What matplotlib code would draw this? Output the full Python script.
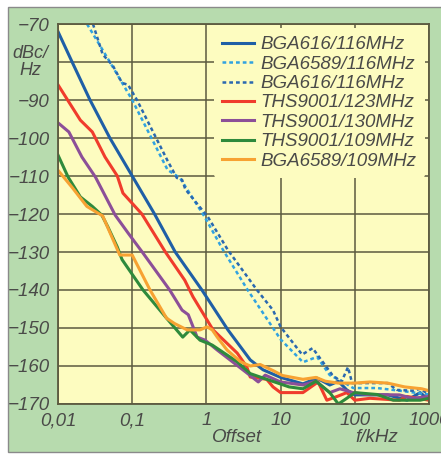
import matplotlib.pyplot as plt
from matplotlib.patches import Rectangle

# Phase noise data (offset in kHz, level in dBc/Hz)
bga616_f = [0.01, 0.0155, 0.027, 0.05, 0.1, 0.2, 0.38, 0.87, 1.95, 3.9, 5.8, 10, 20, 31, 46, 60, 78, 100, 277, 506, 760, 1000]
bga616_db = [-72, -80, -90, -100, -110, -120, -130, -140, -150.5, -158.4, -161, -163, -164.7, -163.2, -165, -164, -166.3, -167.6, -167.6, -169, -167, -169]

bga6589_116_f = [0.0246, 0.05, 0.1, 0.3, 0.44, 0.95, 1.68, 3.6, 10, 20, 31, 46, 70, 95, 200, 400, 1000]
bga6589_116_db = [-70, -80, -90, -108.4, -110.5, -120.8, -129.5, -140, -153, -159, -157.6, -162.4, -164.2, -165.8, -165.8, -166.5, -167.5]

bga616b_f = [0.0296, 0.04, 0.055, 0.073, 0.088, 0.116, 0.3, 0.4, 0.47, 0.52, 1.05, 1.95, 4.8, 7.9, 10, 19.5, 27, 50, 66, 81, 92, 150, 277, 370, 600, 760, 1000]
bga616b_db = [-70, -78, -81, -85.5, -86, -90, -106, -110.5, -111, -113.5, -120.8, -129.5, -140, -145.3, -149.7, -157, -155.3, -162.4, -164.2, -160.3, -164.5, -164.5, -164.5, -166.3, -166.5, -166, -167.5]

ths123_f = [0.01, 0.02, 0.029, 0.043, 0.063, 0.075, 0.135, 0.28, 0.51, 0.66, 1.23, 2.6, 3.5, 3.9, 6.5, 7.9, 10, 20, 32, 42, 58, 78, 100, 160, 400, 500, 1000]
ths123_db = [-86, -95.3, -98.4, -105, -110, -114.5, -120, -130, -137.4, -141.8, -150.5, -156.6, -160.2, -162.9, -163.5, -165.5, -167, -167, -164.2, -169, -168, -167, -169, -168.5, -169, -168, -169]

ths130_f = [0.01, 0.014, 0.021, 0.032, 0.059, 0.088, 0.14, 0.32, 0.47, 0.57, 0.75, 0.96, 1.4, 3.5, 5, 6.2, 10, 20, 30, 46, 63, 95, 145, 400, 600, 1000]
ths130_db = [-96, -98.4, -105, -110.3, -120.3, -125, -130.3, -140, -145.3, -146.5, -152.4, -153.2, -155.8, -161.8, -164.2, -162.4, -164.2, -165, -164, -167, -166, -167, -167.5, -167.6, -168.5, -168]

ths109_f = [0.01, 0.0137, 0.02, 0.029, 0.039, 0.047, 0.063, 0.073, 0.14, 0.29, 0.48, 0.6, 0.82, 1.2, 2.6, 3.9, 6.5, 13, 20, 30, 46, 60, 78, 100, 200, 330, 760, 1000]
ths109_db = [-104.5, -110.3, -115.5, -118, -120.3, -123.4, -128.7, -132, -140, -147.4, -152.4, -150.5, -153.2, -154.5, -158.9, -162, -163.5, -165.5, -166, -164, -167, -170, -168.5, -167, -167.5, -169, -169, -168.5]

bga6589_109_f = [0.01, 0.0155, 0.0245, 0.04, 0.068, 0.1, 0.174, 0.29, 0.37, 0.55, 0.82, 1.02, 1.2, 1.4, 1.9, 2.9, 3.9, 5.3, 7.9, 10.6, 20, 30, 40, 60, 100, 160, 277, 470, 800, 1000]
bga6589_109_db = [-108.5, -113, -118, -120.5, -130.8, -130.8, -140, -147.4, -148.8, -150.5, -150.5, -149.7, -150.5, -152.4, -155.8, -158.9, -160, -159.6, -161.2, -162.5, -163.5, -163, -164, -164.5, -164.5, -164.2, -164.5, -165.5, -166, -166.5]

xticks = [0.01, 0.1, 1, 10, 100, 1000]
xtick_labels = ['0,01', '0,1', '1', '10', '100', '1000']
yticks = [-170, -160, -150, -140, -130, -120, -110, -100, -90, -80, -70]
ytick_labels = ['\u2212170', '\u2212160', '\u2212150', '\u2212140', '\u2212130', '\u2212120', '\u2212110', '\u2212100', '\u221290', '', '\u221270']

plt.rcParams['font.family'] = ['Liberation Sans Narrow', 'Liberation Sans', 'DejaVu Sans']
txt = '#4a4a48'
grid_c = '#5c5a40'

fig = plt.figure(figsize=(4.41, 4.54), dpi=100, facecolor='white')
fig.patches.append(Rectangle((8 / 441, 2 / 454), 1.2, 445 / 454, transform=fig.transFigure,
                             facecolor='#b7dbae', edgecolor='#8a8a8a', linewidth=1.0, zorder=-10))

ax = fig.add_axes([58 / 441, 1 - 404 / 454, 371 / 441, 380 / 454])
ax.set_facecolor('#fdfcc0')
ax.set_xscale('log')
ax.set_xlim(0.01, 1000)
ax.set_ylim(-170, -70)

ax.plot(bga616_f, bga616_db, color='#1f5fa6', lw=2.2, label='BGA616/116MHz')
ax.plot(bga6589_116_f, bga6589_116_db, color='#30a2e0', lw=1.8, ls=(0, (1.5, 1.2)), label='BGA6589/116MHz')
ax.plot(bga616b_f, bga616b_db, color='#2a68b0', lw=1.8, ls=(0, (1.5, 1.2)), label='BGA616/116MHz')
ax.plot(ths123_f, ths123_db, color='#f03c2c', lw=2.2, label='THS9001/123MHz')
ax.plot(ths130_f, ths130_db, color='#8c4f98', lw=2.2, label='THS9001/130MHz')
ax.plot(ths109_f, ths109_db, color='#2e8a3c', lw=2.2, label='THS9001/109MHz')
ax.plot(bga6589_109_f, bga6589_109_db, color='#f7a232', lw=2.2, label='BGA6589/109MHz')

ax.set_xticks(xticks)
ax.set_xticklabels(xtick_labels)
ax.set_yticks(yticks)
ax.set_yticklabels(ytick_labels)
ax.minorticks_off()
ax.tick_params(length=0, pad=6, labelsize=13.5, labelcolor=txt)
for lab in ax.get_xticklabels() + ax.get_yticklabels():
    lab.set_style('italic')
ax.grid(True, color=grid_c, lw=1.1)
for sp in ax.spines.values():
    sp.set_color(grid_c)
    sp.set_linewidth(1.3)

leg = ax.legend(loc='upper right', bbox_to_anchor=(1.0, 1.0), frameon=True,
                handlelength=1.7, handletextpad=0.35, labelspacing=0.12, borderpad=0.45,
                borderaxespad=0.2, prop={'style': 'italic', 'size': 13.5})
leg.get_frame().set_facecolor('#fdfcc0')
leg.get_frame().set_edgecolor('none')
leg.get_frame().set_alpha(1)
for t in leg.get_texts():
    t.set_color(txt)

fig.text(30 / 441, 1 - 62 / 454, 'dBc/\nHz', ha='center', va='center', fontsize=13,
         style='italic', color=txt, linespacing=0.95)
fig.text(237 / 441, 1 - 437 / 454, 'Offset', ha='center', va='center', fontsize=13.5,
         style='italic', color=txt)
fig.text(377 / 441, 1 - 437 / 454, 'f/kHz', ha='center', va='center', fontsize=13.5,
         style='italic', color=txt)

plt.savefig('out.png', dpi=100, facecolor=fig.get_facecolor())
